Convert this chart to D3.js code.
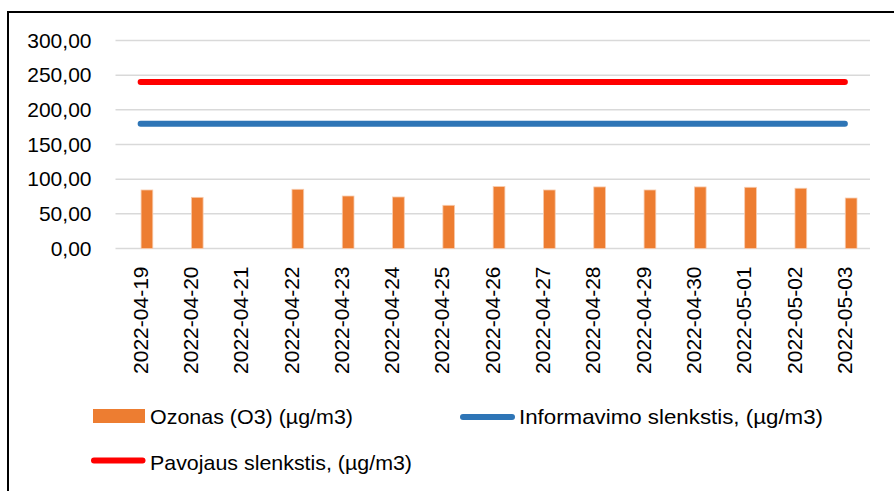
<!DOCTYPE html>
<html>
<head>
<meta charset="utf-8">
<script src="https://cdn.jsdelivr.net/npm/d3@7"></script>
<style>
  body { margin: 0; background: #fff; }
  svg { display: block; }
</style>
</head>
<body>
<svg id="chart" width="894" height="491"></svg>
<script>
// data
const dates = ["2022-04-19", "2022-04-20", "2022-04-21", "2022-04-22", "2022-04-23",
  "2022-04-24", "2022-04-25", "2022-04-26", "2022-04-27", "2022-04-28",
  "2022-04-29", "2022-04-30", "2022-05-01", "2022-05-02", "2022-05-03"];
const ozone = [84.4, 73.8, null, 85.4, 75.7, 74.3, 62.3, 89.3, 84.4, 88.8, 84.4, 88.8, 88.3, 86.9, 72.8];
const infoThreshold = dates.map(() => 180);
const alertThreshold = dates.map(() => 240);
const yTicks = [0, 50, 100, 150, 200, 250, 300];
const legendLabels = ["Ozonas (O3) (µg/m3)", "Informavimo slenkstis, (µg/m3)", "Pavojaus slenkstis, (µg/m3)"];

const svg = d3.select("#chart");
const plotLeft = 115.5, plotRight = 870, plotTop = 40.5, plotBottom = 248.5;

// chart frame (runs off the right and bottom of the picture)
svg.append("rect")
  .attr("x", 8).attr("y", 12)
  .attr("width", 920).attr("height", 520)
  .attr("fill", "none").attr("stroke", "#000").attr("stroke-width", 2);

const x = d3.scaleBand().domain(dates).range([plotLeft, plotRight]);
const y = d3.scaleLinear().domain([0, 300]).range([plotBottom, plotTop]);
const fmt = d => d3.format(".2f")(d).replace(".", ",");

// gridlines
svg.append("g")
  .selectAll("line")
  .data(yTicks)
  .enter()
  .append("line")
  .attr("x1", plotLeft).attr("x2", plotRight)
  .attr("y1", d => y(d)).attr("y2", d => y(d))
  .attr("stroke", "#d9d9d9").attr("stroke-width", 1.5);

// y axis labels
const yAxis = svg.append("g")
  .attr("transform", `translate(${plotLeft - 24},0)`)
  .call(d3.axisLeft(y).tickValues(yTicks).tickFormat(fmt).tickSize(0).tickPadding(0));
yAxis.select(".domain").remove();
yAxis.selectAll("text")
  .attr("font-family", "'Liberation Sans', Arial, sans-serif")
  .attr("font-size", 21)
  .attr("fill", "#000");

// x axis labels, rotated
const xAxis = svg.append("g")
  .attr("transform", `translate(0,${plotBottom})`)
  .call(d3.axisBottom(x).tickSize(0).tickPadding(0));
xAxis.select(".domain").remove();
xAxis.selectAll("text")
  .attr("font-family", "'Liberation Sans', Arial, sans-serif")
  .attr("font-size", 21)
  .attr("fill", "#000")
  .attr("text-anchor", "end")
  .attr("dy", null)
  .attr("transform", "translate(7,18) rotate(-90)");

// Bars
const barW = x.bandwidth() * 0.233;
svg.append("g")
  .selectAll("rect")
  .data(dates.map((d, i) => ({ date: d, v: ozone[i] })).filter(d => d.v != null))
  .enter()
  .append("rect")
  .attr("x", d => x(d.date) + x.bandwidth() * 0.625 - barW / 2)
  .attr("y", d => y(d.v))
  .attr("width", barW)
  .attr("height", d => y(0) - y(d.v))
  .attr("fill", "#ed7d31")
  .attr("stroke", "#f8cbad")
  .attr("stroke-width", 0.8);

// threshold lines
const line = d3.line()
  .x((d, i) => x(dates[i]) + x.bandwidth() / 2)
  .y(d => y(d));

svg.append("path")
  .datum(infoThreshold)
  .attr("d", line)
  .attr("fill", "none")
  .attr("stroke", "#2e75b6")
  .attr("stroke-width", 6)
  .attr("stroke-linecap", "round");

svg.append("path")
  .datum(alertThreshold)
  .attr("d", line)
  .attr("fill", "none")
  .attr("stroke", "#ff0000")
  .attr("stroke-width", 6)
  .attr("stroke-linecap", "round");

// Legend
const legend = svg.append("g");

legend.append("rect")
  .attr("x", 93).attr("y", 409)
  .attr("width", 52).attr("height", 14)
  .attr("fill", "#ed7d31");
legend.append("line")
  .attr("x1", 463).attr("x2", 512)
  .attr("y1", 417).attr("y2", 417)
  .attr("stroke", "#2e75b6").attr("stroke-width", 6).attr("stroke-linecap", "round");
legend.append("line")
  .attr("x1", 94).attr("x2", 142.5)
  .attr("y1", 460.5).attr("y2", 460.5)
  .attr("stroke", "#ff0000").attr("stroke-width", 6).attr("stroke-linecap", "round");

const legendPos = [[150, 423.5, 203], [519, 423.5, 304], [150, 470, 262]];
legend.selectAll("text")
  .data(legendLabels)
  .enter()
  .append("text")
  .attr("x", (d, i) => legendPos[i][0])
  .attr("y", (d, i) => legendPos[i][1])
  .attr("textLength", (d, i) => legendPos[i][2])
  .attr("lengthAdjust", "spacingAndGlyphs")
  .attr("font-family", "'Liberation Sans', Arial, sans-serif")
  .attr("font-size", 21)
  .attr("fill", "#000")
  .text(d => d);
</script>
</body>
</html>
